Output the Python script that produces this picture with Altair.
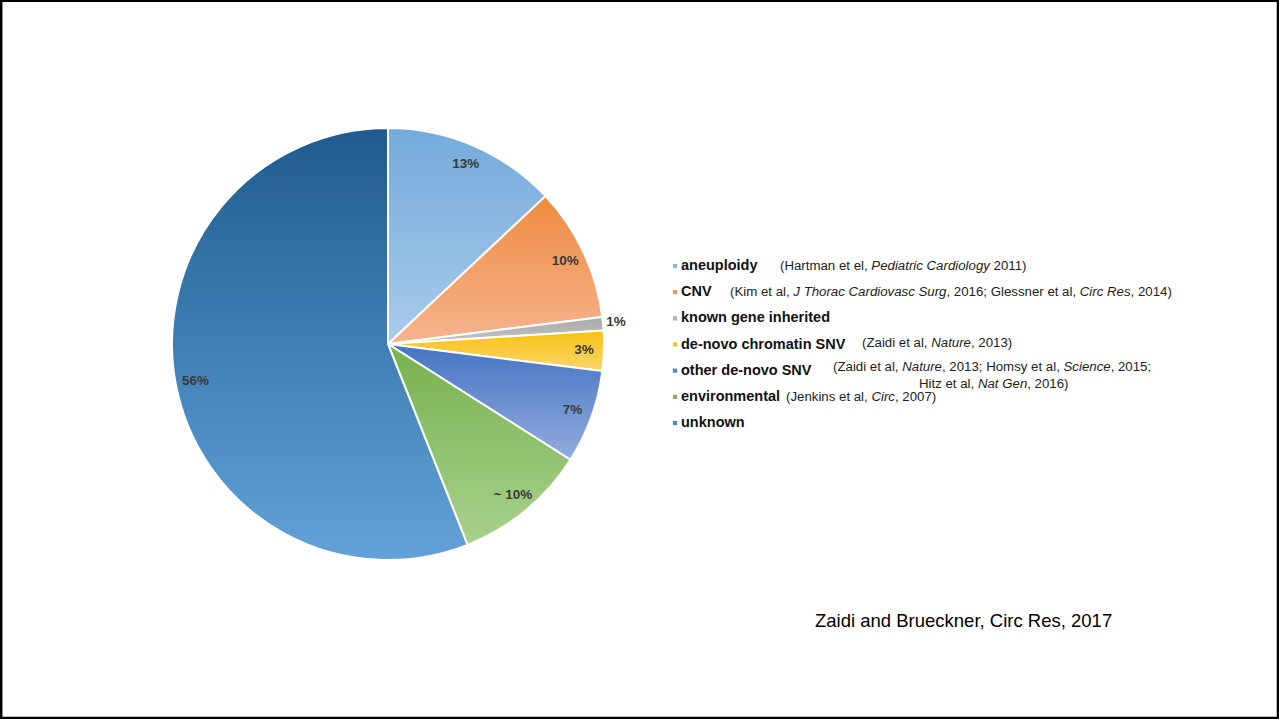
import altair as alt
import pandas as pd

# ---------------- data ----------------
categories = ["aneuploidy", "CNV", "known gene inherited", "de-novo chromatin SNV",
              "other de-novo SNV", "environmental", "unknown"]
values = [13, 10, 1, 3, 7, 10, 56]
pct_labels = ["13%", "10%", "1%", "3%", "7%", "~ 10%", "56%"]
grad_top = ["#74aadb", "#ee8b40", "#a9a9a9", "#f8c112", "#4674c3", "#77b14f", "#1f5b8e"]
grad_bottom = ["#a8cbea", "#f6b48f", "#c4c4c4", "#fdd66c", "#92addf", "#a9d18d", "#62a2d9"]
legend_colors = ["#86b6e0", "#f0945a", "#b3b3b3", "#f6c51c", "#5b86c9", "#7db75a", "#4a8bc6"]

# citation rows: list of (text, italic) segments
citations = [
    [("(Hartman et el, ", False), ("Pediatric Cardiology", True), (" 2011)", False)],
    [("(Kim et al, ", False), ("J Thorac Cardiovasc Surg", True), (", 2016; Glessner et al, ", False),
     ("Circ Res", True), (", 2014)", False)],
    [("(Zaidi et al, ", False), ("Nature", True), (", 2013)", False)],
    [("(Zaidi et al, ", False), ("Nature", True), (", 2013; Homsy et al, ", False),
     ("Science", True), (", 2015;", False)],
    [("Hitz et al, ", False), ("Nat Gen", True), (", 2016)", False)],
    [("(Jenkins et al, ", False), ("Circ", True), (", 2007)", False)],
]
citation_anchor = [(780, 266), (730, 292), (862, 343), (833, 367), (919, 384), (786, 397)]
footer = "Zaidi and Brueckner, Circ Res, 2017"

# ---------------- helpers ----------------
W_REG = {' ': 278, '(': 333, ')': 333, ',': 278, '.': 278, ';': 278, '-': 333, '%': 889,
         'A': 667, 'B': 667, 'C': 722, 'D': 722, 'E': 667, 'F': 611, 'G': 778, 'H': 722, 'I': 278,
         'J': 500, 'K': 667, 'L': 556, 'M': 833, 'N': 722, 'O': 778, 'P': 667, 'Q': 778, 'R': 722,
         'S': 667, 'T': 611, 'U': 722, 'V': 667, 'W': 944, 'X': 667, 'Y': 667, 'Z': 611,
         'a': 556, 'b': 556, 'c': 500, 'd': 556, 'e': 556, 'f': 278, 'g': 556, 'h': 556, 'i': 222,
         'j': 222, 'k': 500, 'l': 222, 'm': 833, 'n': 556, 'o': 556, 'p': 556, 'q': 556, 'r': 333,
         's': 500, 't': 278, 'u': 556, 'v': 500, 'w': 722, 'x': 500, 'y': 500, 'z': 500}


def text_width(s, size):
    return sum(W_REG.get(ch, 556) for ch in s) * size / 1000.0


CIT_SIZE = 13.25
FONT = "Liberation Sans"

df = pd.DataFrame({"category": categories, "value": values, "label": pct_labels,
                   "order": list(range(len(categories))), "row": list(range(len(categories)))})

base = alt.Chart(df).transform_window(
    end="sum(value)", sort=[alt.SortField("order")], frame=[None, 0]
).transform_calculate(start="datum.end - datum.value", mid="datum.end - datum.value/2")

theta_scale = alt.Scale(domain=[0, 100])
CX, CY, R = 388, 344, 216

layers = []
for i, cat in enumerate(categories):
    grad = alt.Gradient(gradient="linear",
                        stops=[alt.GradientStop(color=grad_top[i], offset=0),
                               alt.GradientStop(color=grad_bottom[i], offset=1)],
                        x1=0, x2=0, y1=0, y2=1)
    layers.append(
        base.transform_filter(alt.datum.category == cat).mark_arc(
            outerRadius=R, fill=grad, stroke="white", strokeWidth=2
        ).encode(
            theta=alt.Theta("start:Q", scale=theta_scale),
            theta2="end:Q",
            x=alt.value(CX), y=alt.value(CY),
        )
    )

# percentage labels
LABEL_STYLE = dict(font=FONT, fontSize=13.5, fontWeight="bold", color="#3a3a3a")
layers.append(
    base.transform_filter(alt.datum.label != "1%").mark_text(radius=196, **LABEL_STYLE).encode(
        theta=alt.Theta("mid:Q", scale=theta_scale), text="label:N",
        x=alt.value(CX), y=alt.value(CY))
)
layers.append(
    base.transform_filter(alt.datum.label == "1%").mark_text(radius=229, **LABEL_STYLE).encode(
        theta=alt.Theta("mid:Q", scale=theta_scale), text="label:N",
        x=alt.value(CX), y=alt.value(CY))
)

# legend
row_scale = alt.Scale(domain=[0, 6], range=[266, 423])
layers.append(
    alt.Chart(df).mark_square(size=18, opacity=1).encode(
        x=alt.value(675),
        y=alt.Y("row:Q", scale=row_scale, axis=None),
        color=alt.Color("category:N", scale=alt.Scale(domain=categories, range=legend_colors), legend=None),
    )
)
layers.append(
    alt.Chart(df).mark_text(align="left", baseline="middle", font=FONT, fontSize=14.5,
                            fontWeight="bold", color="#111111").encode(
        x=alt.value(681),
        y=alt.Y("row:Q", scale=row_scale, axis=None),
        text="category:N",
    )
)

# citations (leading spaces are trimmed by the renderer, so advance x for them)
for segs, (x0, y0) in zip(citations, citation_anchor):
    x = x0
    for txt, ital in segs:
        stripped = txt.lstrip(" ")
        x += text_width(txt[:len(txt) - len(stripped)], CIT_SIZE)
        layers.append(
            alt.Chart(pd.DataFrame({"t": [stripped]})).mark_text(
                align="left", baseline="middle", font=FONT, fontSize=CIT_SIZE,
                fontStyle="italic" if ital else "normal", color="#222222"
            ).encode(x=alt.value(x), y=alt.value(y0), text="t:N")
        )
        x += text_width(stripped, CIT_SIZE)

# footer
layers.append(
    alt.Chart(pd.DataFrame({"t": [footer]})).mark_text(
        align="left", baseline="middle", font=FONT, fontSize=18.5, color="#000000"
    ).encode(x=alt.value(815), y=alt.value(621), text="t:N")
)

# frame border
layers.append(
    alt.Chart(pd.DataFrame({"a": [0]})).mark_rect(fill=None, stroke="black", strokeWidth=2.5).encode(
        x=alt.value(1.2), x2=alt.value(1278), y=alt.value(0.8), y2=alt.value(718)
    )
)

chart = alt.layer(*layers).properties(
    width=1279, height=719, padding=0, autosize="none", background="white"
).configure_view(stroke=None)

chart.save("out.html", embed_options={"renderer": "svg", "actions": False})
